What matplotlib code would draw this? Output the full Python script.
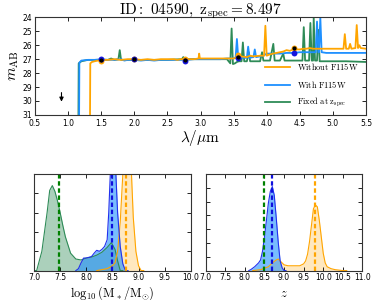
import matplotlib
matplotlib.use("Agg")
import matplotlib.pyplot as plt
import numpy as np

plt.rcParams['mathtext.fontset'] = 'cm'
plt.rcParams['font.family'] = 'DejaVu Sans'

# ---- spectra (wavelength um, AB mag) ----
lam_wo = [1.30, 1.33, 1.335, 1.36, 1.40, 1.45, 1.50, 1.55, 1.60, 1.70, 1.80, 1.90, 2.00, 2.10, 2.20,
          2.30, 2.40, 2.50, 2.60, 2.65, 2.70, 2.80, 2.90, 2.97, 2.98, 2.99, 3.10, 3.20, 3.30, 3.40,
          3.50, 3.55, 3.60, 3.70, 3.75, 3.80, 3.90, 3.96, 3.98, 4.00, 4.05, 4.10, 4.15, 4.20, 4.25,
          4.30, 4.35, 4.40, 4.45, 4.50, 4.55, 4.60, 4.65, 4.70, 4.80, 4.90, 5.00, 5.10, 5.16, 5.18,
          5.20, 5.24, 5.26, 5.28, 5.34, 5.36, 5.38, 5.40, 5.42, 5.50]
mag_wo = [32.0, 32.0, 27.3, 27.2, 27.15, 27.1, 27.1, 27.05, 27.05, 27.0, 27.05, 27.0, 27.0, 27.05, 27.0,
          27.05, 27.0, 27.0, 27.0, 27.05, 27.0, 27.0, 27.0, 26.95, 26.6, 26.95, 26.95, 26.95, 26.95, 26.95,
          26.95, 26.85, 26.8, 26.85, 26.75, 26.8, 26.75, 26.75, 24.6, 26.75, 26.65, 26.6, 26.55, 26.5, 26.45,
          26.35, 26.4, 26.3, 26.3, 26.3, 26.25, 26.25, 26.2, 26.25, 26.25, 26.25, 26.25, 26.25, 26.25, 25.2,
          26.25, 26.25, 25.9, 26.25, 26.2, 24.55, 26.2, 26.0, 26.2, 26.25]

lam_w = [1.10, 1.165, 1.17, 1.20, 1.30, 1.40, 1.50, 1.60, 1.70, 1.80, 1.85, 1.90, 2.00, 2.10, 2.20,
         2.30, 2.40, 2.50, 2.60, 2.70, 2.80, 2.90, 3.00, 3.10, 3.20, 3.30, 3.40, 3.50, 3.53, 3.55,
         3.57, 3.60, 3.70, 3.72, 3.74, 3.80, 3.82, 3.84, 3.90, 3.95, 4.00, 4.10, 4.20, 4.30, 4.40,
         4.50, 4.60, 4.70, 4.74, 4.76, 4.78, 4.79, 4.81, 4.83, 4.90, 5.00, 5.50]
mag_w = [32.0, 32.0, 27.25, 27.1, 27.05, 27.05, 27.0, 27.05, 27.05, 27.0, 27.1, 27.05, 27.05, 27.1, 27.05,
         27.1, 27.05, 27.05, 27.05, 27.05, 27.05, 27.0, 27.0, 27.0, 27.0, 27.0, 26.95, 26.95, 26.9, 25.55,
         26.9, 26.9, 26.9, 26.1, 26.9, 26.85, 26.3, 26.85, 26.8, 26.75, 26.6, 26.6, 26.6, 26.55, 26.55,
         26.5, 26.5, 26.5, 26.5, 24.3, 26.5, 26.5, 24.0, 26.5, 26.55, 26.55, 26.55]

lam_fx = [1.10, 1.155, 1.16, 1.20, 1.30, 1.50, 1.60, 1.65, 1.70, 1.76, 1.78, 1.80, 1.90, 2.20, 2.50,
          2.72, 2.74, 2.76, 3.00, 3.20, 3.40, 3.45, 3.47, 3.49, 3.52, 3.55, 3.58, 3.62, 3.64, 3.66,
          3.70, 3.73, 3.75, 3.85, 3.90, 3.93, 3.95, 4.05, 4.10, 4.12, 4.20, 4.25, 4.27, 4.40, 4.54,
          4.56, 4.58, 4.64, 4.66, 4.68, 4.70, 4.71, 4.73, 4.76, 4.78, 4.80, 4.84, 5.00, 5.20, 5.50]
mag_fx = [32.0, 32.0, 27.3, 27.15, 27.05, 27.05, 27.05, 26.95, 27.05, 27.0, 26.35, 27.05, 27.05, 27.05, 27.05,
          27.0, 26.85, 27.0, 27.0, 27.0, 27.0, 27.3, 24.8, 27.35, 27.3, 27.2, 27.15, 27.15, 25.8, 27.15,
          27.15, 26.5, 27.15, 27.15, 27.15, 26.5, 27.1, 27.1, 25.9, 27.1, 27.1, 26.6, 27.1, 27.1, 27.1,
          24.7, 27.1, 27.1, 24.4, 27.1, 27.1, 24.0, 27.1, 27.1, 24.9, 27.15, 27.15, 27.15, 27.15, 27.2]

# ---- photometry ----
phot_lam = [1.50, 2.00, 2.77, 3.57, 4.41]
phot_mag = [27.03, 27.0, 27.08, 26.85, 26.2]
mod_w_lam = [1.50, 2.00, 2.77, 3.57, 4.41]
mod_w_mag = [27.0, 27.02, 27.12, 26.9, 26.55]
mod_wo_lam = [1.50, 2.00, 2.77, 3.57, 4.41]
mod_wo_mag = [27.12, 27.0, 27.0, 26.72, 26.2]
ulim_lam = [0.9]
ulim_mag = [29.6]

# ---- mass PDFs ----
m_fx = [7.00, 7.05, 7.15, 7.25, 7.30, 7.35, 7.40, 7.45, 7.50, 7.55, 7.60, 7.70, 7.80, 7.90, 8.00,
        8.10, 8.20, 8.30, 8.40, 8.48, 8.55, 8.60, 8.65, 8.70]
p_fx = [0.0, 0.0, 0.2, 0.6, 0.83, 0.88, 0.82, 0.72, 0.6, 0.47, 0.35, 0.18, 0.12, 0.11, 0.13,
        0.14, 0.16, 0.19, 0.24, 0.29, 0.22, 0.1, 0.0, 0.0]
m_w = [7.80, 7.85, 7.90, 7.95, 8.00, 8.10, 8.15, 8.20, 8.25, 8.30, 8.35, 8.40, 8.43, 8.46, 8.50,
       8.55, 8.60, 8.65, 8.70, 8.75, 8.80]
p_w = [0.0, 0.02, 0.08, 0.13, 0.13, 0.145, 0.18, 0.21, 0.2, 0.22, 0.25, 0.32, 0.6, 1.0, 1.3,
       1.2, 0.6, 0.25, 0.07, 0.0, 0.0]
m_wo = [8.20, 8.30, 8.40, 8.50, 8.55, 8.60, 8.65, 8.70, 8.75, 8.80, 8.85, 8.90, 8.95, 9.00, 9.05, 9.10]
p_wo = [0.0, 0.01, 0.02, 0.05, 0.08, 0.2, 0.5, 1.0, 1.4, 1.5, 1.2, 0.55, 0.2, 0.05, 0.0, 0.0]
mass_best = [8.76, 8.49, 7.47]

# ---- redshift PDFs ----
z_w = [8.10, 8.15, 8.25, 8.35, 8.40, 8.45, 8.50, 8.55, 8.60, 8.65, 8.70, 8.75, 8.80, 8.85, 8.90,
       8.95, 9.00, 9.05]
p_zw = [0.0, 0.01, 0.04, 0.08, 0.11, 0.2, 0.35, 0.52, 0.7, 0.82, 0.87, 0.78, 0.55, 0.3, 0.1,
        0.03, 0.0, 0.0]
z_wo = [8.20, 8.40, 8.60, 8.70, 8.80, 8.85, 8.90, 9.00, 9.10, 9.20, 9.30, 9.40, 9.50, 9.55, 9.60,
        9.65, 9.70, 9.75, 9.80, 9.85, 9.90, 9.95, 10.00, 10.05, 10.10, 10.20, 10.30, 10.50, 10.60]
p_zwo = [0.0, 0.01, 0.04, 0.08, 0.11, 0.12, 0.1, 0.06, 0.05, 0.05, 0.05, 0.05, 0.07, 0.1, 0.17,
         0.3, 0.47, 0.64, 0.68, 0.66, 0.52, 0.35, 0.18, 0.08, 0.04, 0.02, 0.01, 0.0, 0.0]
z_best = [9.80, 8.68, 8.497]

C_WO = '#FFA500'
C_W = '#1E90FF'
C_FX = '#2E8B57'

fig = plt.figure(figsize=(3.74, 3.0), dpi=100)
ax = fig.add_axes([0.0936, 0.617, 0.885, 0.325])
ax1 = fig.add_axes([0.091, 0.098, 0.419, 0.322])
ax2 = fig.add_axes([0.55, 0.098, 0.419, 0.322])

for a in (ax, ax1, ax2):
    a.tick_params(direction='in', top=True, right=True, labelsize=5.5, length=3, width=0.6, pad=2)
    for s in a.spines.values():
        s.set_linewidth(0.8)
        s.set_color('#333333')
ax.tick_params(axis='x', pad=3)

ax.plot(lam_wo, mag_wo, color=C_WO, lw=1.3, label=r'$\mathrm{Without\ F115W}$', zorder=3)
ax.plot(lam_w, mag_w, color=C_W, lw=1.3, label=r'$\mathrm{With\ F115W}$', zorder=2)
ax.plot(lam_fx, mag_fx, color=C_FX, lw=1.3, label=r'$\mathrm{Fixed\ at\ z_{spec}}$', zorder=1)
ax.scatter(mod_wo_lam, mod_wo_mag, s=18, color=C_WO, zorder=4, lw=0)
ax.scatter(mod_w_lam, mod_w_mag, s=18, color='#1515DD', zorder=4, lw=0)
ax.scatter(phot_lam, phot_mag, s=9, color='black', zorder=5, lw=0)
ax.annotate('', xy=(ulim_lam[0], ulim_mag[0] + 0.45), xytext=(ulim_lam[0], ulim_mag[0] - 0.2),
            arrowprops=dict(arrowstyle='-|>', color='black', lw=0.8, mutation_scale=6,
                            shrinkA=0, shrinkB=0))
ax.set_xlim(0.5, 5.5)
ax.set_ylim(31, 24)
ax.set_xticks(np.arange(0.5, 5.51, 0.5))
ax.set_yticks(np.arange(24, 31.1, 1))
ax.set_xlabel(r'$\lambda/\mu\mathrm{m}$', fontsize=11, labelpad=0)
ax.set_ylabel(r'$m_{\rm AB}$', fontsize=11, labelpad=1)
ax.set_title(r'$\mathrm{ID:\ 04590,\ z_{spec}=8.497}$', fontsize=11, pad=2)
ax.legend(loc='lower right', frameon=False, fontsize=6, handlelength=3.0,
          bbox_to_anchor=(1.0, -0.02), labelspacing=0.8)

# mass panel
ax1.fill_between(m_fx, p_fx, color=C_FX, alpha=0.4, lw=0)
ax1.plot(m_fx, p_fx, color=C_FX, lw=0.8)
ax1.fill_between(m_wo, p_wo, color=C_WO, alpha=0.25, lw=0)
ax1.plot(m_wo, p_wo, color=C_WO, lw=0.8)
ax1.fill_between(m_w, p_w, color=C_W, alpha=0.6, lw=0)
ax1.plot(m_w, p_w, color='#2030EE', lw=0.8)
for v, c in zip(mass_best, [C_WO, '#1010DD', 'green']):
    ax1.axvline(v, color=c, lw=1.6, ls=(0, (2, 1.2)))
ax1.set_xlim(7.0, 10.0)
ax1.set_ylim(0, 1.0)
ax1.set_yticks([0.2, 0.4, 0.6, 0.8])
ax1.set_yticklabels([])
ax1.set_xticks(np.arange(7.0, 10.01, 0.5))
ax1.set_xlabel(r'$\log_{10}(\mathrm{M_*/M_{\odot}})$', fontsize=9, labelpad=1)

# redshift panel
ax2.fill_between(z_wo, p_zwo, color=C_WO, alpha=0.25, lw=0)
ax2.plot(z_wo, p_zwo, color=C_WO, lw=0.8)
ax2.fill_between(z_w, p_zw, color=C_W, alpha=0.6, lw=0)
ax2.plot(z_w, p_zw, color='#2030EE', lw=0.8)
for v, c in zip(z_best, [C_WO, '#1010DD', 'green']):
    ax2.axvline(v, color=c, lw=1.6, ls=(0, (2, 1.2)))
ax2.set_xlim(7.0, 11.0)
ax2.set_ylim(0, 1.0)
ax2.set_yticks(np.arange(1, 7) / 7)
ax2.set_yticklabels([])
ax2.set_xticks(np.arange(7.0, 11.01, 0.5))
ax2.set_xlabel(r'$z$', fontsize=9, labelpad=3)

fig.savefig('out.png', dpi=100)
